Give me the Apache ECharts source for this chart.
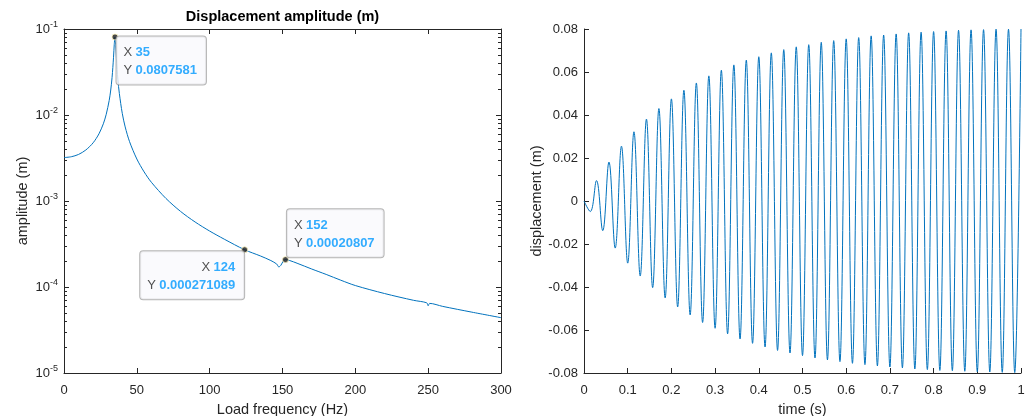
<!DOCTYPE html>
<html>
<head>
<meta charset="utf-8">
<script src="https://cdn.jsdelivr.net/npm/echarts@6/dist/echarts.min.js"></script>
<style>
html,body{margin:0;padding:0;background:#fff;}
#c{width:1030px;height:416px;}
</style>
</head>
<body>
<div id="c"></div>
<script>
// ---- Left: frequency response (log amplitude) ----
const freqHz = [0, 5, 10, 15, 20, 24, 27, 29, 31, 32, 33, 34, 34.5, 35, 35.5, 36, 37, 38, 40, 42, 45, 50, 55, 60, 70, 80, 90, 100, 110, 124, 135, 142, 146, 147.5, 149, 150.5, 152, 155, 160, 170, 180, 190, 200, 220, 240, 249, 250, 251, 260, 280, 300];
const amplitude = [0.00320, 0.00327, 0.00348, 0.00392, 0.00475, 0.00604, 0.00790, 0.0102, 0.0147, 0.0190, 0.0273, 0.0469, 0.0664, 0.0807581, 0.0648, 0.0451, 0.0257, 0.0178, 0.01045, 0.00727, 0.00490, 0.00308, 0.00218, 0.00165, 0.00107, 0.000757, 0.000570, 0.000447, 0.000360, 0.000271089, 0.000229, 0.000203, 0.000185, 0.000171, 0.000180, 0.000200, 0.00020807, 0.000203, 0.000189, 0.000162, 0.000140, 0.000120, 0.000104, 0.000084, 0.000070, 0.0000655, 0.0000605, 0.0000645, 0.0000595, 0.0000510, 0.0000440];
const tipX = [35, 124, 152];
const tipY = [0.0807581, 0.000271089, 0.00020807];
const freqTicks = [0, 50, 100, 150, 200, 250, 300];
const ampMajorTicks = [1e-5, 1e-4, 1e-3, 1e-2, 1e-1];
const ampMinorTicks = [2e-5,3e-5,4e-5,5e-5,6e-5,7e-5,8e-5,9e-5,2e-4,3e-4,4e-4,5e-4,6e-4,7e-4,8e-4,9e-4,2e-3,3e-3,4e-3,5e-3,6e-3,7e-3,8e-3,9e-3,2e-2,3e-2,4e-2,5e-2,6e-2,7e-2,8e-2,9e-2];

// ---- Right: time response (peaks and troughs) ----
const dispTime = [0, 0.0143, 0.0286, 0.0429, 0.0571, 0.0714, 0.0857, 0.1000, 0.1143, 0.1286, 0.1429, 0.1571, 0.1714, 0.1857, 0.2000, 0.2143, 0.2286, 0.2429, 0.2571, 0.2714, 0.2857, 0.3000, 0.3143, 0.3286, 0.3429, 0.3571, 0.3714, 0.3857, 0.4000, 0.4143, 0.4286, 0.4429, 0.4571, 0.4714, 0.4857, 0.5000, 0.5143, 0.5286, 0.5429, 0.5571, 0.5714, 0.5857, 0.6000, 0.6143, 0.6286, 0.6429, 0.6571, 0.6714, 0.6857, 0.7000, 0.7143, 0.7286, 0.7429, 0.7571, 0.7714, 0.7857, 0.8000, 0.8143, 0.8286, 0.8429, 0.8571, 0.8714, 0.8857, 0.9000, 0.9143, 0.9286, 0.9429, 0.9571, 0.9714, 0.9857, 1.0000];
const dispValue = [0, -0.0049, 0.0095, -0.0138, 0.0181, -0.0219, 0.0255, -0.0289, 0.0322, -0.0349, 0.0381, -0.0403, 0.0430, -0.0451, 0.0475, -0.0493, 0.0515, -0.0530, 0.0549, -0.0565, 0.0582, -0.0592, 0.0608, -0.0618, 0.0633, -0.0642, 0.0655, -0.0662, 0.0671, -0.0679, 0.0689, -0.0695, 0.0704, -0.0707, 0.0717, -0.0719, 0.0727, -0.0730, 0.0738, -0.0739, 0.0746, -0.0747, 0.0754, -0.0755, 0.0760, -0.0761, 0.0768, -0.0767, 0.0772, -0.0772, 0.0777, -0.0776, 0.0782, -0.0781, 0.0785, -0.0784, 0.0788, -0.0788, 0.0791, -0.0789, 0.0794, -0.0792, 0.0796, -0.0794, 0.0797, -0.0795, 0.0799, -0.0797, 0.0799, -0.0798, 0.0800];

const AX = '#262626';
const LINE = '#0072BD';
const FONT = '"Liberation Sans", Arial, Helvetica, sans-serif';

const chart = echarts.init(document.getElementById('c'), null, {renderer: 'canvas'});

const tipLabels = [
  {pos: [5, 3], align: 'left'},
  {pos: [3, 5], align: 'right'},
  {pos: [5, -47], align: 'left'}
];

const tipData = tipX.map((x, i) => ({
  value: [x, tipY[i]],
  label: {
    show: true,
    position: tipLabels[i].pos,
    align: tipLabels[i].align,
    formatter: '{k|X} {v|' + x + '}\n{k|Y} {v|' + tipY[i] + '}',
    backgroundColor: 'rgba(249,249,252,0.97)',
    borderColor: '#a3a3a3',
    borderWidth: 1,
    borderRadius: 3,
    padding: [7, 9, 5, 7],
    lineHeight: 18,
    rich: {
      k: {color: AX, fontSize: 13, fontFamily: FONT, lineHeight: 18, align: tipLabels[i].align},
      v: {color: '#0099FF', fontSize: 13, fontWeight: 'bold', fontFamily: FONT, lineHeight: 18, align: tipLabels[i].align}
    }
  }
}));

const common = {fontFamily: FONT, color: AX};

const option = {
  animation: false,
  textStyle: {fontFamily: FONT},
  grid: [
    {left: 64, top: 29, width: 437, height: 344, containLabel: false, outerBoundsMode: 'none'},
    {left: 584, top: 29, width: 437, height: 344, containLabel: false, outerBoundsMode: 'none'}
  ],
  xAxis: [
    {
      gridIndex: 0, type: 'value', min: 0, max: 300, interval: 50, position: 'bottom',
      axisLine: {show: true, onZero: false, lineStyle: {color: AX, width: 1}},
      axisTick: {show: true, inside: true, length: 5, lineStyle: {color: AX}},
      axisLabel: {show: true, fontSize: 13, margin: 11, ...common},
      splitLine: {show: false},
      name: 'Load frequency (Hz)', nameLocation: 'middle', nameGap: 29,
      nameTextStyle: {fontSize: 14.5, ...common}
    },
    {
      gridIndex: 0, type: 'value', min: 0, max: 300, interval: 50, position: 'top',
      axisLine: {show: true, onZero: false, lineStyle: {color: AX, width: 1}},
      axisTick: {show: true, inside: true, length: 5, lineStyle: {color: AX}},
      axisLabel: {show: false},
      splitLine: {show: false},
      name: 'Displacement amplitude (m)', nameLocation: 'middle', nameGap: 5,
      nameTextStyle: {fontSize: 14.5, fontWeight: 'bold', fontFamily: FONT, color: '#000'}
    },
    {
      gridIndex: 1, type: 'value', min: 0, max: 1, interval: 0.1, position: 'bottom',
      axisLine: {show: true, onZero: false, lineStyle: {color: AX, width: 1}},
      axisTick: {show: true, inside: true, length: 5, lineStyle: {color: AX}},
      axisLabel: {show: true, fontSize: 13, margin: 11, ...common,
        formatter: v => (Math.abs(v) < 1e-9 ? '0' : (Math.abs(v - 1) < 1e-9 ? '1' : v.toFixed(1)))},
      splitLine: {show: false},
      name: 'time (s)', nameLocation: 'middle', nameGap: 29,
      nameTextStyle: {fontSize: 14.5, ...common}
    }
  ],
  yAxis: [
    {
      gridIndex: 0, type: 'log', logBase: 10, min: 1e-5, max: 1e-1, position: 'left',
      axisLine: {show: true, onZero: false, lineStyle: {color: AX, width: 1}},
      axisTick: {show: true, inside: true, length: 5, lineStyle: {color: AX}, customValues: ampMajorTicks},
      axisLabel: {show: true, margin: 6, customValues: ampMajorTicks,
        formatter: v => '{b|10}{s|' + Math.round(Math.log10(v)) + '}',
        rich: {
          b: {fontSize: 13, lineHeight: 18, ...common},
          s: {fontSize: 9, lineHeight: 9, verticalAlign: 'top', ...common}
        }},
      splitLine: {show: false},
      name: 'amplitude (m)', nameLocation: 'middle', nameGap: 34, nameRotate: 90,
      nameTextStyle: {fontSize: 14.5, ...common}
    },
    {
      gridIndex: 0, type: 'log', logBase: 10, min: 1e-5, max: 1e-1, position: 'right',
      axisLine: {show: true, onZero: false, lineStyle: {color: AX, width: 1}},
      axisTick: {show: true, inside: true, length: 5, lineStyle: {color: AX}, customValues: ampMajorTicks},
      axisLabel: {show: false},
      splitLine: {show: false}
    },
    {
      gridIndex: 0, type: 'log', logBase: 10, min: 1e-5, max: 1e-1, position: 'left',
      axisLine: {show: false, onZero: false},
      axisTick: {show: true, inside: true, length: 3, lineStyle: {color: AX}, customValues: ampMinorTicks},
      axisLabel: {show: false},
      splitLine: {show: false}
    },
    {
      gridIndex: 0, type: 'log', logBase: 10, min: 1e-5, max: 1e-1, position: 'right',
      axisLine: {show: false, onZero: false},
      axisTick: {show: true, inside: true, length: 3, lineStyle: {color: AX}, customValues: ampMinorTicks},
      axisLabel: {show: false},
      splitLine: {show: false}
    },
    {
      gridIndex: 1, type: 'value', min: -0.08, max: 0.08, interval: 0.02, position: 'left',
      axisLine: {show: true, onZero: false, lineStyle: {color: AX, width: 1}},
      axisTick: {show: true, inside: true, length: 5, lineStyle: {color: AX}},
      axisLabel: {show: true, fontSize: 13, margin: 6, ...common,
        formatter: v => (Math.abs(v) < 1e-9 ? '0' : v.toFixed(2))},
      splitLine: {show: false},
      name: 'displacement (m)', nameLocation: 'middle', nameGap: 40, nameRotate: 90,
      nameTextStyle: {fontSize: 14.5, ...common}
    }
  ],
  series: [
    {
      type: 'line', xAxisIndex: 0, yAxisIndex: 0,
      data: freqHz.map((f, i) => [f, amplitude[i]]),
      showSymbol: false, smooth: 0.3,
      lineStyle: {color: LINE, width: 1}, itemStyle: {color: LINE},
      z: 2
    },
    {
      type: 'scatter', xAxisIndex: 0, yAxisIndex: 0,
      data: tipData,
      symbol: 'circle', symbolSize: 6,
      itemStyle: {color: '#1a1a1a', borderColor: '#fff6c0', borderWidth: 1},
      z: 10
    },
    {
      type: 'line', xAxisIndex: 2, yAxisIndex: 4,
      data: dispTime.map((t, i) => [t, dispValue[i]]),
      showSymbol: false, smooth: 0.4,
      lineStyle: {color: LINE, width: 1}, itemStyle: {color: LINE},
      z: 2
    }
  ]
};
chart.setOption(option);
</script>
</body>
</html>
